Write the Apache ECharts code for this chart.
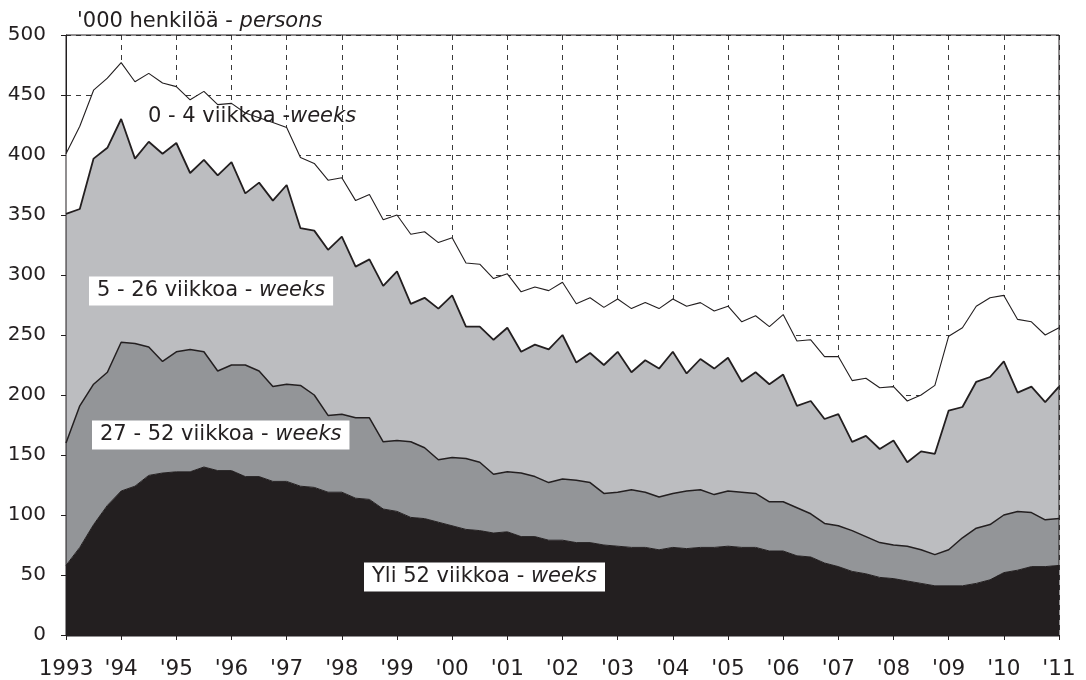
<!DOCTYPE html>
<html>
<head>
<meta charset="utf-8">
<script src="https://cdn.jsdelivr.net/npm/echarts@6/dist/echarts.min.js"></script>
<style>
  html, body { margin: 0; padding: 0; background: #ffffff; }
  #chart { width: 1086px; height: 680px; }
</style>
</head>
<body>
<div id="chart"></div>
<script>
// Unemployed persons by duration of unemployment, thousands, quarterly 1993 Q1 – 2011 Q1
const yearLabels = ['1993', "'94", "'95", "'96", "'97", "'98", "'99", "'00", "'01", "'02",
                    "'03", "'04", "'05", "'06", "'07", "'08", "'09", "'10", "'11"];

// Over 52 weeks
const over52 = [58, 73, 92, 108, 120, 124, 133, 135, 136, 136, 140, 137, 137, 132, 132, 128,
                128, 124, 123, 119, 119, 114, 113, 105, 103, 98, 97, 94, 91, 88, 87, 85,
                86, 82, 82, 79, 79, 77, 77, 75, 74, 73, 73, 71, 73, 72, 73, 73,
                74, 73, 73, 70, 70, 66, 65, 60, 57, 53, 51, 48, 47, 45, 43, 41,
                41, 41, 43, 46, 52, 54, 57, 57, 58];
// 27 - 52 weeks
const w27to52 = [102, 118, 117, 111, 124, 119, 107, 93, 100, 102, 96, 83, 88, 93, 88, 79,
                 81, 84, 77, 64, 65, 67, 68, 56, 59, 63, 59, 52, 57, 59, 57, 49,
                 50, 53, 50, 48, 51, 52, 50, 43, 45, 48, 46, 44, 45, 48, 48, 44,
                 46, 46, 45, 41, 41, 40, 36, 33, 34, 34, 31, 29, 28, 29, 28, 26,
                 30, 40, 46, 46, 48, 49, 45, 39, 39];
// 5 - 26 weeks
const w5to26 = [191, 164, 188, 187, 186, 154, 171, 173, 174, 147, 160, 163, 169, 143, 157, 155,
                166, 131, 137, 138, 148, 126, 132, 130, 141, 115, 125, 126, 135, 110, 113, 112,
                120, 101, 110, 111, 120, 98, 108, 107, 117, 98, 110, 107, 118, 98, 109, 105,
                111, 92, 101, 98, 106, 85, 94, 87, 93, 74, 84, 78, 87, 70, 82, 84,
                116, 109, 122, 123, 128, 99, 105, 98, 110];
// 0 - 4 weeks
const w0to4 = [50, 69, 57, 58, 47, 64, 57, 59, 47, 61, 57, 59, 49, 67, 54, 65,
               48, 59, 56, 58, 49, 55, 54, 55, 47, 58, 55, 55, 48, 53, 52, 51,
               45, 50, 48, 49, 44, 49, 46, 48, 44, 53, 48, 50, 44, 56, 47, 48,
               43, 50, 47, 48, 50, 54, 51, 52, 48, 51, 48, 51, 45, 51, 47, 57,
               62, 66, 63, 66, 55, 61, 54, 56, 49];

// Quarter categories: 1993Q1 ... 2011Q1
const quarters = [];
for (let y = 1993; y <= 2011; y++) {
  for (let q = 1; q <= 4; q++) {
    if (y === 2011 && q > 1) break;
    quarters.push(y + 'Q' + q);
  }
}

const FONT = 'DejaVu Sans';
const INK = '#231f20';
const gridBox = { left: 66, top: 35, right: 27, bottom: 44 };

const dashed = { color: '#3a3a3a', width: 1, type: [5, 5] };

function areaSeries(name, data, fill, lineWidth) {
  return {
    name: name,
    type: 'line',
    stack: 'total',
    data: data,
    symbol: 'none',
    smooth: false,
    lineStyle: { color: INK, width: lineWidth },
    areaStyle: { color: fill, opacity: 1 },
    emphasis: { disabled: true }
  };
}

function boxLabel(x, y, plain, italic, boxed) {
  const base = { fontFamily: FONT, fontSize: 21, fill: INK };
  return {
    type: 'text',
    x: x,
    y: y,
    z: 50,
    style: {
      text: '{a|' + plain + '}{b|' + italic + '}',
      rich: {
        a: Object.assign({}, base),
        b: Object.assign({ fontStyle: 'italic' }, base)
      },
      fontFamily: FONT,
      fontSize: 21,
      fill: INK,
      align: 'left',
      verticalAlign: 'middle',
      backgroundColor: boxed ? '#ffffff' : null,
      padding: boxed ? [4, 8, 4, 8] : 0
    }
  };
}

const chart = echarts.init(document.getElementById('chart'));
chart.setOption({
  animation: false,
  backgroundColor: '#ffffff',
  grid: Object.assign({ containLabel: false }, gridBox),
  xAxis: {
    type: 'category',
    data: quarters,
    boundaryGap: false,
    axisLine: { show: true, lineStyle: { color: INK, width: 1 } },
    axisTick: { show: true, interval: 3, length: 5, lineStyle: { color: INK } },
    axisLabel: {
      interval: 3,
      formatter: (v, i) => yearLabels[Math.round(i / 4)],
      fontFamily: FONT,
      fontSize: 21.5,
      color: INK,
      margin: 23
    },
    splitLine: { show: true, interval: 3, lineStyle: dashed }
  },
  yAxis: {
    type: 'value',
    min: 0,
    max: 500,
    interval: 50,
    axisLine: { show: true, lineStyle: { color: INK, width: 1 } },
    axisTick: { show: true, length: 5, lineStyle: { color: INK } },
    axisLabel: { fontFamily: FONT, fontSize: 20, color: INK, margin: 20 },
    splitLine: { show: true, lineStyle: dashed }
  },
  series: [
    areaSeries('Yli 52 viikkoa', over52, '#231f20', 1),
    areaSeries('27 - 52 viikkoa', w27to52, '#939598', 1.5),
    areaSeries('5 - 26 viikkoa', w5to26, '#bcbdc0', 1.8),
    areaSeries('0 - 4 viikkoa', w0to4, '#ffffff', 1.1)
  ],
  graphic: [
    {
      type: 'rect',
      z: 100,
      silent: true,
      shape: { x: 66, y: 35, width: 1086 - 66 - 27, height: 680 - 35 - 44 },
      style: { fill: 'none', stroke: INK, lineWidth: 1 }
    },
    {
      type: 'text',
      x: 77,
      y: 22,
      z: 50,
      style: {
        text: "{a|'000 henkilöä - }{b|persons}",
        rich: {
          a: { fontFamily: FONT, fontSize: 21, fill: INK },
          b: { fontFamily: FONT, fontSize: 21, fill: INK, fontStyle: 'italic' }
        },
        fontFamily: FONT,
        fontSize: 21,
        fill: INK,
        align: 'left',
        verticalAlign: 'middle'
      }
    },
    boxLabel(148, 117, '0 - 4 viikkoa -', 'weeks', false),
    boxLabel(89, 291, '5 - 26 viikkoa - ', 'weeks', true),
    boxLabel(92, 435, '27 - 52 viikkoa - ', 'weeks', true),
    boxLabel(364, 577, 'Yli 52 viikkoa - ', 'weeks', true)
  ]
});
</script>
</body>
</html>
